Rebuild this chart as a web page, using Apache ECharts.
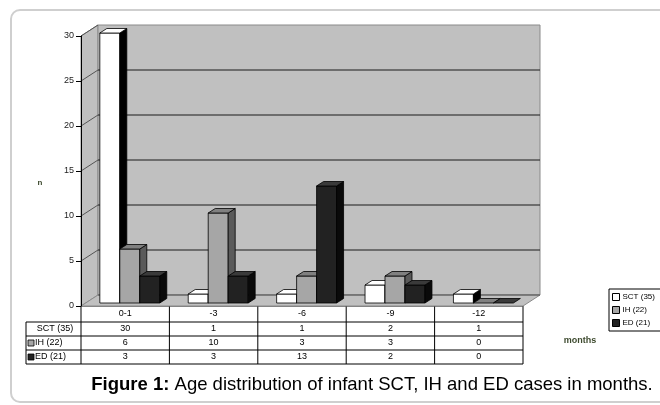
<!DOCTYPE html>
<html>
<head>
<meta charset="utf-8">
<script src="https://cdn.jsdelivr.net/npm/echarts@6/dist/echarts.min.js"></script>
<style>html,body{margin:0;padding:0;background:#fff}#c{width:660px;height:405px}</style>
</head>
<body>
<div id="c"></div>
<script>
// ---- data ----
var categories = ['0-1', '-3', '-6', '-9', '-12'];
var seriesNames = ['SCT (35)', 'IH (22)', 'ED (21)'];
var sctValues = [30, 1, 1, 2, 1];
var ihValues = [6, 10, 3, 3, 0];
var edValues = [3, 3, 13, 2, 0];
var yTicks = [0, 5, 10, 15, 20, 25, 30];
var captionBold = 'Figure 1:';
var captionText = ' Age distribution of infant SCT, IH and ED cases in months.';

// ---- styles ----
var FONT = '"Liberation Sans", Arial, sans-serif';
var WALL = '#c0c0c0';
var DX = 17, DY = -11;      // wall depth
var FX = 4.6, FY = -3;      // bar front offset
var BDX = 7, BDY = -4.5;    // bar depth
var faces = [
  {front: '#ffffff', top: '#ffffff', side: '#000000'},
  {front: '#a6a6a6', top: '#808080', side: '#5a5a5a'},
  {front: '#222222', top: '#3a3a3a', side: '#0a0a0a'}
];
var allValues = [sctValues, ihValues, edValues];

var chart = echarts.init(document.getElementById('c'), null, {renderer: 'canvas'});

function wallsRender(params, api) {
  var cs = params.coordSys;
  var x0 = cs.x, x1 = cs.x + cs.width;
  var yb = api.coord([0, 0])[1];
  var yt = api.coord([0, yTicks[yTicks.length - 1]])[1];
  var ch = [];
  ch.push({type: 'polygon', shape: {points: [[x0, yb], [x0, yt], [x0 + DX, yt + DY], [x0 + DX, yb + DY]]},
    style: {fill: WALL, stroke: '#8a8a8a', lineWidth: 1}});
  ch.push({type: 'rect', shape: {x: x0 + DX, y: yt + DY, width: x1 - x0, height: yb - yt},
    style: {fill: WALL, stroke: '#8a8a8a', lineWidth: 1}});
  ch.push({type: 'polygon', shape: {points: [[x0, yb], [x1, yb], [x1 + DX, yb + DY], [x0 + DX, yb + DY]]},
    style: {fill: WALL, stroke: '#8a8a8a', lineWidth: 1}});
  yTicks.forEach(function (t) {
    var y = api.coord([0, t])[1];
    if (t > 0 && t < yTicks[yTicks.length - 1]) {
      ch.push({type: 'line', shape: {x1: x0 + DX, y1: y + DY, x2: x1 + DX, y2: y + DY},
        style: {stroke: '#1a1a1a', lineWidth: 1}});
      ch.push({type: 'line', shape: {x1: x0, y1: y, x2: x0 + DX, y2: y + DY},
        style: {stroke: '#555', lineWidth: 1}});
    }
  });
  ch.push({type: 'line', shape: {x1: x0 + DX, y1: yb + DY, x2: x1 + DX, y2: yb + DY},
    style: {stroke: '#555', lineWidth: 1}});
  ch.push({type: 'line', shape: {x1: x0, y1: yt, x2: x0 + DX, y2: yt + DY},
    style: {stroke: '#555', lineWidth: 1}});
  return {type: 'group', children: ch};
}

function makeBarRender(s) {
  return function (params, api) {
    var i = api.value(0), v = api.value(1);
    var pb = api.coord([i, 0]);
    var pt = api.coord([i, v]);
    var band = api.size([1, 0])[0];
    var w = band * 0.226;
    var x = pb[0] + FX - 1.5 * w + s * w;
    var yb = pb[1] + FY, yt = pt[1] + FY;
    var f = faces[s];
    var st = {stroke: '#000', lineWidth: 0.8, lineJoin: 'round'};
    var ch = [];
    if (yb - yt > 0.5) {
      ch.push({type: 'polygon', shape: {points: [[x, yt], [x + w, yt], [x + w, yb], [x, yb]]},
        style: Object.assign({fill: f.front}, st)});
      ch.push({type: 'polygon', shape: {points: [[x + w, yt], [x + w + BDX, yt + BDY], [x + w + BDX, yb + BDY], [x + w, yb]]},
        style: Object.assign({fill: f.side}, st)});
    }
    ch.push({type: 'polygon', shape: {points: [[x, yt], [x + w, yt], [x + w + BDX, yt + BDY], [x + BDX, yt + BDY]]},
      style: Object.assign({fill: f.top}, st)});
    return {type: 'group', children: ch};
  };
}

function tableRender(params, api) {
  var i = api.value(0);
  var p = api.coord([i, 0]);
  var rows = [categories[i], sctValues[i], ihValues[i], edValues[i]];
  var ys = [p[1] + 8, p[1] + 23, p[1] + 37, p[1] + 51];
  return {type: 'group', children: rows.map(function (r, k) {
    return {type: 'text', x: p[0], y: ys[k], style: {text: String(r), fill: '#000', font: '9px ' + FONT,
      align: 'center', verticalAlign: 'middle'}};
  })};
}

var barSeries = seriesNames.map(function (name, s) {
  return {
    type: 'custom', name: name, z: 5,
    renderItem: makeBarRender(s),
    itemStyle: {color: faces[s].front, borderColor: '#000'},
    data: categories.map(function (c, i) { return [i, allValues[s][i]]; }),
    encode: {x: 0, y: 1}, clip: false, silent: true
  };
});

var tL = 26, tX0 = 81, tX1 = 523, colW = (tX1 - tX0) / categories.length;
var rowY = [306, 322, 336, 350, 364];
var tableGraphics = [];
for (var k = 1; k < rowY.length; k++) {
  tableGraphics.push({type: 'line', shape: {x1: tL, y1: rowY[k], x2: tX1, y2: rowY[k]},
    style: {stroke: '#000', lineWidth: 1}});
}
for (var c = 0; c <= categories.length; c++) {
  var xx = tX0 + c * colW;
  tableGraphics.push({type: 'line', shape: {x1: xx, y1: 306, x2: xx, y2: 364}, style: {stroke: '#000', lineWidth: 1}});
}
tableGraphics.push({type: 'line', shape: {x1: tL, y1: 322, x2: tL, y2: 364}, style: {stroke: '#000', lineWidth: 1}});
tableGraphics.push({type: 'line', shape: {x1: tX0, y1: 306, x2: tX1, y2: 306}, style: {stroke: '#000', lineWidth: 1}});
tableGraphics.push({type: 'text', x: 55, y: 329, style: {text: seriesNames[0], font: '9px ' + FONT, fill: '#000', align: 'center', verticalAlign: 'middle'}});
[1, 2].forEach(function (s) {
  var yc = rowY[s + 1] + 7;
  tableGraphics.push({type: 'rect', shape: {x: 28, y: yc - 3, width: 6, height: 6},
    style: {fill: faces[s].front, stroke: '#000', lineWidth: 0.8}});
  tableGraphics.push({type: 'text', x: 35, y: yc, style: {text: seriesNames[s], font: '9px ' + FONT, fill: '#000', align: 'left', verticalAlign: 'middle'}});
});

var option = {
  animation: false,
  backgroundColor: '#fff',
  grid: {left: 81, top: 36, width: 442, height: 270},
  xAxis: {type: 'category', data: categories, axisLine: {show: false}, axisTick: {show: false},
    axisLabel: {show: false}, splitLine: {show: false}},
  yAxis: {type: 'value', min: 0, max: 30, interval: 5,
    axisLine: {show: true, lineStyle: {color: '#000', width: 1}},
    axisTick: {show: true, length: 5, lineStyle: {color: '#000'}},
    axisLabel: {margin: 7, fontSize: 9, fontFamily: FONT, color: '#222'},
    splitLine: {show: false}, z: 6},
  legend: {
    orient: 'vertical', left: 609, top: 289, itemWidth: 7, itemHeight: 7, itemGap: 5,
    borderColor: '#000', borderWidth: 1, padding: [4, 12, 4, 3],
    textStyle: {fontSize: 8, fontFamily: FONT, color: '#000', padding: [0, 0, 0, -2]},
    selectedMode: false,
    data: seriesNames.map(function (n, s) {
      return {name: n, icon: 'rect', itemStyle: {color: faces[s].front, borderColor: '#000', borderWidth: 1}};
    })
  },
  graphic: [
    {type: 'rect', shape: {x: 11, y: 10, width: 700, height: 392, r: 9},
      style: {fill: 'none', stroke: '#cfcfcf', lineWidth: 2}, z: -10},
    {type: 'text', x: 40, y: 183, style: {text: 'n', font: 'bold 8px ' + FONT, fill: '#3d4a2e', align: 'center', verticalAlign: 'middle'}},
    {type: 'text', x: 580, y: 341, style: {text: 'months', font: 'bold 9px ' + FONT, fill: '#3d4a2e', align: 'center', verticalAlign: 'middle'}},
    {type: 'text', x: 372, y: 385, style: {
      text: '{b|' + captionBold + '}{n|' + captionText + '}', align: 'center', verticalAlign: 'middle',
      rich: {b: {font: 'bold 18.5px ' + FONT, fill: '#000'}, n: {font: '18.5px ' + FONT, fill: '#000'}}}}
  ].concat(tableGraphics),
  series: [
    {type: 'custom', name: 'walls', z: 1, renderItem: wallsRender, data: [[0, 0]], encode: {x: 0, y: 1}, silent: true, clip: false}
  ].concat(barSeries).concat([
    {type: 'custom', name: 'table', z: 7, renderItem: tableRender,
      data: categories.map(function (c, i) { return [i, 0]; }), encode: {x: 0, y: 1}, silent: true, clip: false}
  ])
};
chart.setOption(option);
</script>
</body>
</html>
